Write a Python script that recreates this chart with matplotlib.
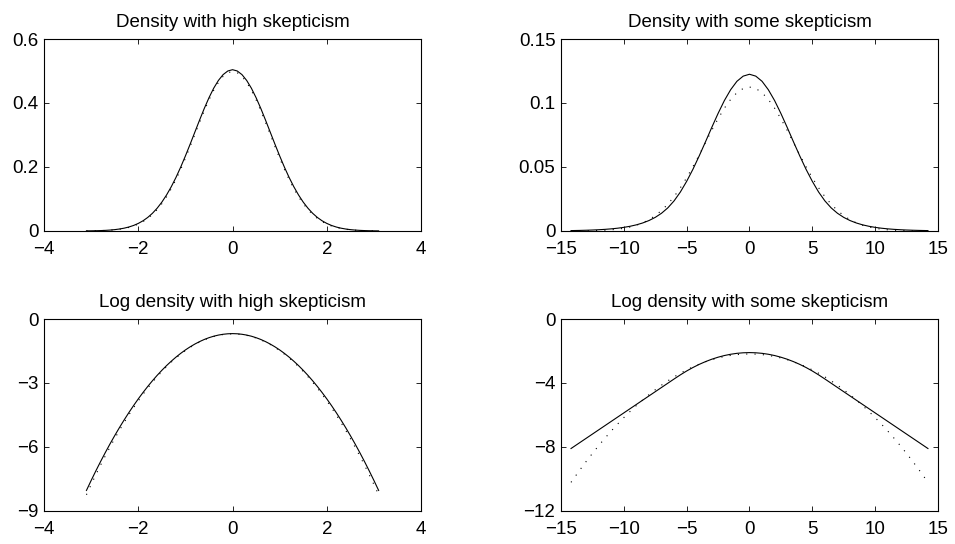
import numpy as np
import matplotlib.pyplot as plt
from matplotlib.ticker import FuncFormatter

plt.rcParams['font.family'] = ['Liberation Sans', 'DejaVu Sans']
plt.rcParams['font.size'] = 13.5

# Half grids (x >= 0); all four densities are symmetric about zero,
# so only the right half is stored and mirrored when drawing.
x_high = [0.0, 0.1, 0.2, 0.3, 0.4, 0.5, 0.6, 0.7, 0.8, 0.9, 1.0,
          1.1, 1.2, 1.3, 1.4, 1.5, 1.6, 1.7, 1.8, 1.9, 2.0,
          2.1, 2.2, 2.3, 2.4, 2.5, 2.6, 2.7, 2.8, 2.9, 3.0, 3.1]

# log density, high skepticism (solid = robust prior, dotted = normal)
logd_high = [-0.685, -0.693, -0.716, -0.754, -0.807, -0.876, -0.960, -1.060,
             -1.175, -1.305, -1.450, -1.611, -1.787, -1.978, -2.184, -2.406,
             -2.643, -2.896, -3.164, -3.447, -3.745, -4.059, -4.388, -4.732,
             -5.091, -5.466, -5.856, -6.262, -6.683, -7.119, -7.570, -8.037]
logd_high_norm = [-0.696, -0.704, -0.727, -0.767, -0.822, -0.892, -0.979, -1.081,
                  -1.198, -1.332, -1.481, -1.646, -1.826, -2.023, -2.235, -2.462,
                  -2.706, -2.965, -3.239, -3.530, -3.836, -4.158, -4.495, -4.849,
                  -5.218, -5.602, -6.003, -6.419, -6.850, -7.298, -7.761, -8.240]

x_some = [0.0, 0.5, 1.0, 1.5, 2.0, 2.5, 3.0, 3.5, 4.0, 4.5, 5.0, 5.5, 6.0, 6.5,
          7.0, 7.5, 8.0, 8.5, 9.0, 9.5, 10.0, 10.5, 11.0, 11.5, 12.0, 12.5,
          13.0, 13.5, 14.0, 14.2]

# log density, some skepticism
logd_some = [-2.100, -2.112, -2.146, -2.204, -2.284, -2.388, -2.514, -2.664,
             -2.836, -3.032, -3.250, -3.492, -3.750, -4.015, -4.280, -4.545,
             -4.810, -5.075, -5.340, -5.605, -5.870, -6.135, -6.400, -6.665,
             -6.930, -7.195, -7.460, -7.725, -7.990, -8.096]
logd_some_norm = [-2.185, -2.195, -2.225, -2.275, -2.344, -2.434, -2.543, -2.673,
                  -2.822, -2.991, -3.180, -3.389, -3.618, -3.867, -4.135, -4.424,
                  -4.732, -5.061, -5.409, -5.777, -6.165, -6.573, -7.001, -7.449,
                  -7.916, -8.404, -8.911, -9.439, -9.986, -10.210]


def mirror(x, y):
    x = np.asarray(x)
    y = np.asarray(y)
    return np.concatenate([-x[:0:-1], x]), np.concatenate([y[:0:-1], y])


xh, lh = mirror(x_high, logd_high)
_, lhn = mirror(x_high, logd_high_norm)
xs, ls = mirror(x_some, logd_some)
_, lsn = mirror(x_some, logd_some_norm)

panels = [
    # title, x, solid, dotted, xlim, xticks, ylim, yticks
    ("Density with high skepticism", xh, np.exp(lh), np.exp(lhn),
     (-4, 4), [-4, -2, 0, 2, 4], (0, 0.6), [0, 0.2, 0.4, 0.6]),
    ("Density with some skepticism", xs, np.exp(ls), np.exp(lsn),
     (-15, 15), [-15, -10, -5, 0, 5, 10, 15], (0, 0.15), [0, 0.05, 0.1, 0.15]),
    ("Log density with high skepticism", xh, lh, lhn,
     (-4, 4), [-4, -2, 0, 2, 4], (-9, 0), [-9, -6, -3, 0]),
    ("Log density with some skepticism", xs, ls, lsn,
     (-15, 15), [-15, -10, -5, 0, 5, 10, 15], (-12, 0), [-12, -8, -4, 0]),
]

positions = [
    [0.0461, 0.5754, 0.3948, 0.3529],
    [0.5874, 0.5754, 0.3948, 0.3529],
    [0.0461, 0.0607, 0.3948, 0.3529],
    [0.5874, 0.0607, 0.3948, 0.3529],
]

fmt = FuncFormatter(lambda v, p: f"{v:g}".replace("-", "\u2212"))

fig = plt.figure(figsize=(9.55, 5.44), dpi=100)
for pos, (title, x, solid, dotted, xlim, xticks, ylim, yticks) in zip(positions, panels):
    ax = fig.add_axes(pos)
    ax.plot(x, dotted, color='k', linewidth=0.8, linestyle=(0, (1, 6.5)))
    ax.plot(x, solid, color='k', linewidth=0.8)
    ax.set_xlim(*xlim)
    ax.set_ylim(*ylim)
    ax.set_xticks(xticks)
    ax.set_yticks(yticks)
    ax.xaxis.set_major_formatter(fmt)
    ax.yaxis.set_major_formatter(fmt)
    ax.tick_params(direction='in', top=True, right=True, length=3.5, width=0.6)
    ax.tick_params(axis='x', pad=7)
    ax.tick_params(axis='y', pad=4)
    for s in ax.spines.values():
        s.set_linewidth(0.8)
    ax.set_title(title, fontsize=13.5, pad=9)

fig.savefig('out.png', dpi=100)
